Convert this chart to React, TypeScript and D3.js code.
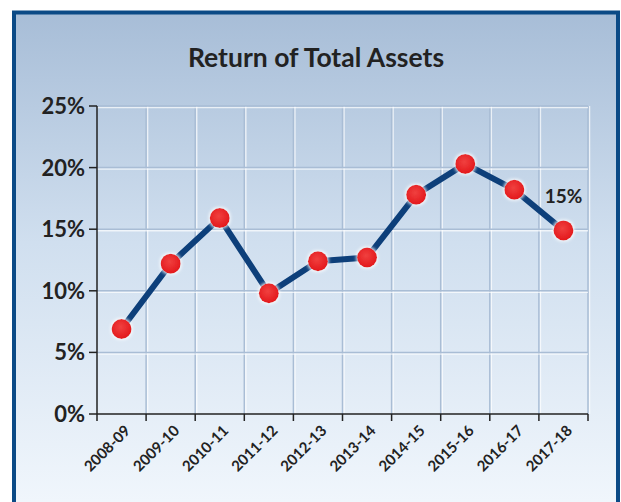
import React from "react";
import * as d3 from "d3";

const categories = ["2008-09","2009-10","2010-11","2011-12","2012-13","2013-14","2014-15","2015-16","2016-17","2017-18"];
const values = [6.9, 12.2, 15.9, 9.8, 12.4, 12.7, 17.8, 20.3, 18.2, 14.9];
const yTicks = [0, 5, 10, 15, 20, 25];
const title = "Return of Total Assets";
const labelText = "15%";

export default function App() {
  const W = 621, H = 502;
  const left = 97, right = 588, top = 106, bottom = 414;
  const x = d3.scaleBand<string>().domain(categories).range([left, right]);
  const y = d3.scaleLinear().domain([0, 25]).range([bottom, top]);
  const line = d3.line<number>()
    .x((_, i) => (x(categories[i]) as number) + x.bandwidth() / 2)
    .y((d) => y(d));
  const font = "Lato, 'Open Sans', sans-serif";
  const last = values.length - 1;
  return (
    <svg width={W} height={H} style={{ position: "absolute", left: 0, top: 0 }} fontFamily={font}>
      <defs>
        <linearGradient id="bg" x1="0" y1="0" x2="0" y2="1">
          <stop offset="0" stopColor="#a7bdd7" />
          <stop offset="0.45" stopColor="#d0dfef" />
          <stop offset="1" stopColor="#f3f8fd" />
        </linearGradient>
        <radialGradient id="dot" cx="0.45" cy="0.4" r="0.6">
          <stop offset="0" stopColor="#f0403f" />
          <stop offset="1" stopColor="#e3181c" />
        </radialGradient>
        <filter id="glow" x="-50%" y="-50%" width="200%" height="200%">
          <feGaussianBlur in="SourceAlpha" stdDeviation="1.5" result="b" />
          <feFlood floodColor="#ffffff" floodOpacity="0.8" />
          <feComposite in2="b" operator="in" result="s" />
          <feMorphology in="s" operator="dilate" radius="1" result="s2" />
          <feMerge>
            <feMergeNode in="s2" />
            <feMergeNode in="SourceGraphic" />
          </feMerge>
        </filter>
      </defs>
      <rect x={0} y={0} width={W} height={H} fill="#ffffff" />
      <rect x={14} y={12.5} width={604} height={H + 10} fill="url(#bg)" stroke="#0b4a86" strokeWidth={4} />
      <text x={316} y={67} textAnchor="middle" fontSize={26.5} fontWeight={700} fill="#222">{title}</text>
      {/* grid */}
      {x.domain().map((c) => {
        const xx = (x(c) as number) + x.bandwidth();
        return (
          <g key={"g" + c}>
            <line x1={xx + 1.5} x2={xx + 1.5} y1={top} y2={bottom} stroke="#ffffff" strokeOpacity={0.7} strokeWidth={1.5} />
            <line x1={xx} x2={xx} y1={top} y2={bottom} stroke="#a9bdd5" strokeWidth={1.5} />
          </g>
        );
      })}
      {yTicks.filter((t) => t > 0).map((t) => (
        <g key={"h" + t}>
          <line x1={left} x2={right} y1={y(t) + 1.5} y2={y(t) + 1.5} stroke="#ffffff" strokeOpacity={0.7} strokeWidth={1.5} />
          <line x1={left} x2={right} y1={y(t)} y2={y(t)} stroke="#a9bdd5" strokeWidth={1.5} />
        </g>
      ))}
      {/* axes */}
      <line x1={left} x2={left} y1={top} y2={bottom} stroke="#222" strokeWidth={1.5} />
      <line x1={left} x2={right} y1={bottom} y2={bottom} stroke="#222" strokeWidth={1.5} />
      {yTicks.map((t) => (
        <g key={"yt" + t}>
          <line x1={left - 8} x2={left} y1={y(t)} y2={y(t)} stroke="#222" strokeWidth={1.5} />
          <text x={85} y={y(t) + 8} textAnchor="end" fontSize={22} fontWeight={700} fill="#222">{t + "%"}</text>
        </g>
      ))}
      {[...categories.map((c) => x(c) as number), right].map((xx, i) => (
        <line key={"xt" + i} x1={xx} x2={xx} y1={bottom} y2={bottom + 7} stroke="#222" strokeWidth={1.5} />
      ))}
      {categories.map((c) => {
        const cx = (x(c) as number) + x.bandwidth() / 2 + 6;
        const cy = bottom + 14;
        return (
          <text key={"xl" + c} transform={`translate(${cx},${cy}) rotate(-45)`} textAnchor="end" fontSize={15} fontWeight={700} fill="#222" dy="0.35em">{c}</text>
        );
      })}
      <path d={line(values) as string} fill="none" stroke="#0d3f7a" strokeWidth={6} strokeLinejoin="round" />
      {values.map((v, i) => (
        <circle key={"p" + i} cx={(x(categories[i]) as number) + x.bandwidth() / 2} cy={y(v)} r={10} fill="url(#dot)" filter="url(#glow)" />
      ))}
      <text x={(x(categories[last]) as number) + x.bandwidth() / 2} y={y(values[last]) - 27} textAnchor="middle" fontSize={19} fontWeight={700} fill="#222">{labelText}</text>
    </svg>
  );
}
